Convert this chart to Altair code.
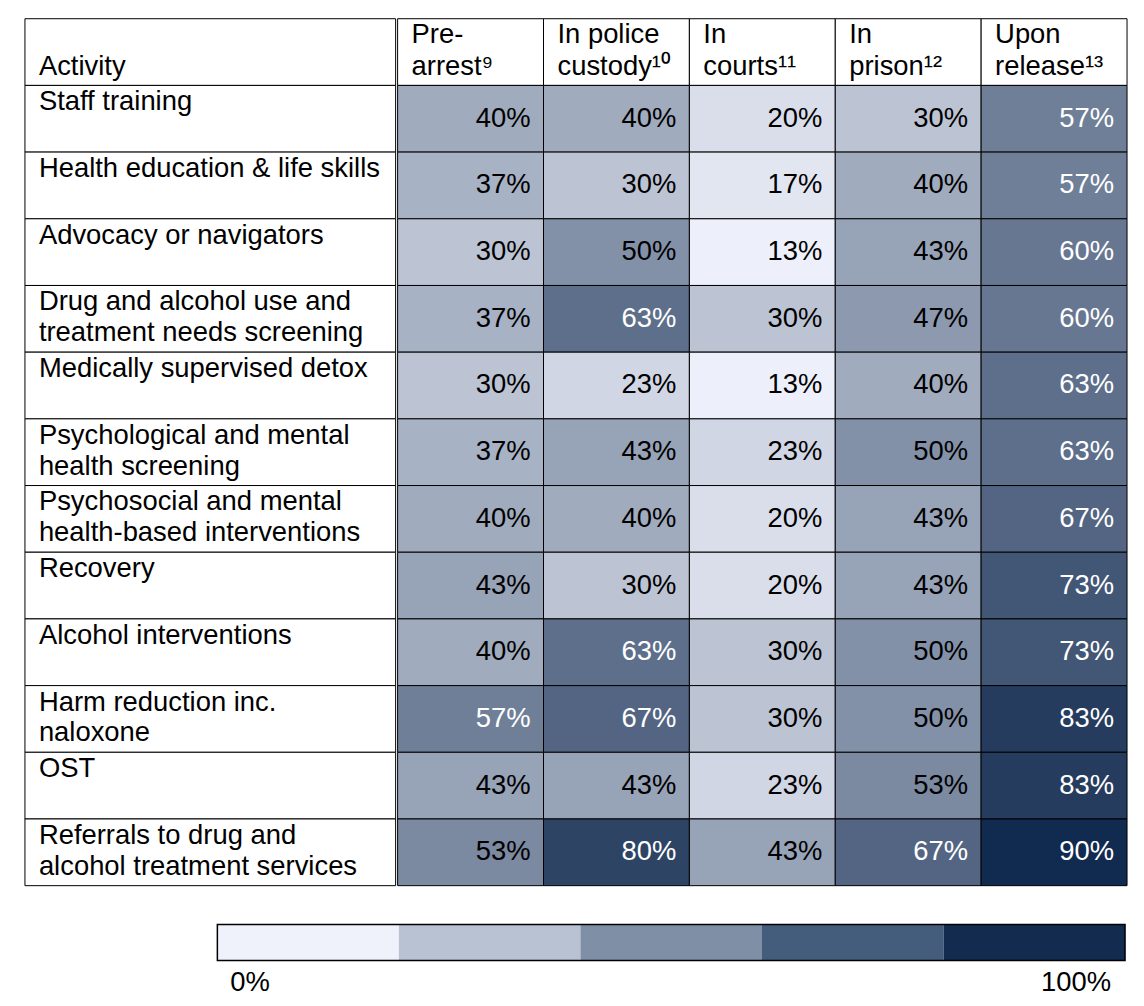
import altair as alt
import pandas as pd

# ---- data ----
stages = ["Pre-arrest", "In police custody", "In courts", "In prison", "Upon release"]
stage_headers = ["Pre-\narrest⁹", "In police\ncustody¹⁰", "In\ncourts¹¹", "In\nprison¹²", "Upon\nrelease¹³"]

activities = [
    "Staff training",
    "Health education & life skills",
    "Advocacy or navigators",
    "Drug and alcohol use and\ntreatment needs screening",
    "Medically supervised detox",
    "Psychological and mental\nhealth screening",
    "Psychosocial and mental\nhealth-based interventions",
    "Recovery",
    "Alcohol interventions",
    "Harm reduction inc.\nnaloxone",
    "OST",
    "Referrals to drug and\nalcohol treatment services",
]

pre_arrest = [40, 37, 30, 37, 30, 37, 40, 43, 40, 57, 43, 53]
police_custody = [40, 30, 50, 63, 23, 43, 40, 30, 63, 67, 43, 80]
courts = [20, 17, 13, 30, 13, 23, 20, 20, 30, 30, 23, 43]
prison = [30, 40, 43, 47, 40, 50, 43, 43, 50, 50, 53, 67]
upon_release = [57, 57, 60, 60, 63, 63, 67, 73, 73, 83, 83, 90]

legend_lo = [0, 20, 40, 60, 80]
legend_hi = [20, 40, 60, 80, 100]
legend_colors = ["#eff1fb", "#b8c2d2", "#7f8fa6", "#445d7c", "#122b4f"]
legend_labels = ["0%", "100%"]
legend_label_pos = [0, 100]

HEADER = "Activity"
row_domain = [HEADER] + activities
FONT = "Liberation Sans"
FS = 27.5
LH = 31

# ---- tables ----
series = [pre_arrest, police_custody, courts, prison, upon_release]
cells = pd.DataFrame(
    [{"row": a, "stage": s, "value": vals[i]}
     for s, vals in zip(stages, series) for i, a in enumerate(activities)]
)
cells["label"] = cells["value"].astype(str) + "%"

head_df = pd.DataFrame({"row": HEADER, "stage": stages, "text": stage_headers})
left_df = pd.DataFrame({"row": row_domain, "col": "Activity"})
act_df = pd.DataFrame({"row": activities, "col": "Activity"})
acthead_df = pd.DataFrame({"row": [HEADER], "col": ["Activity"], "text": [HEADER]})

yscale = alt.Scale(domain=row_domain, paddingInner=0, paddingOuter=0)
noaxis = None

# ---- left column ----
lx = alt.Scale(domain=["Activity"], paddingInner=0, paddingOuter=0)
left_rect = alt.Chart(left_df).mark_rect(fill="white", stroke="black", strokeWidth=1).encode(
    x=alt.X("col:N", scale=lx, axis=noaxis),
    y=alt.Y("row:N", scale=yscale, axis=noaxis),
)
left_text = alt.Chart(act_df).mark_text(
    align="left", baseline="top", dx=14, dy=3, font=FONT, fontSize=FS,
    lineBreak="\n", lineHeight=LH, color="black",
).encode(
    x=alt.X("col:N", scale=lx, axis=noaxis, bandPosition=0),
    y=alt.Y("row:N", scale=yscale, axis=noaxis, bandPosition=0),
    text="row:N",
)
left_head = alt.Chart(acthead_df).mark_text(
    align="left", baseline="bottom", dx=14, dy=-4, font=FONT, fontSize=FS,
    color="black",
).encode(
    x=alt.X("col:N", scale=lx, axis=noaxis, bandPosition=0),
    y=alt.Y("row:N", scale=yscale, axis=noaxis, bandPosition=1),
    text="text:N",
)
left = alt.layer(left_rect, left_text, left_head).properties(width=372, height=870)

# ---- heatmap ----
sx = alt.Scale(domain=stages, paddingInner=0, paddingOuter=0)
head_rect = alt.Chart(head_df).mark_rect(fill="white", stroke="black", strokeWidth=1).encode(
    x=alt.X("stage:N", scale=sx, axis=noaxis),
    y=alt.Y("row:N", scale=yscale, axis=noaxis),
)
head_text = alt.Chart(head_df).mark_text(
    align="left", baseline="top", dx=14, dy=2, font=FONT, fontSize=FS,
    lineBreak="\n", lineHeight=LH + 1, color="black",
).encode(
    x=alt.X("stage:N", scale=sx, axis=noaxis, bandPosition=0),
    y=alt.Y("row:N", scale=yscale, axis=noaxis, bandPosition=0),
    text="text:N",
)
cell_rect = alt.Chart(cells).mark_rect(stroke="black", strokeWidth=1).encode(
    x=alt.X("stage:N", scale=sx, axis=noaxis),
    y=alt.Y("row:N", scale=yscale, axis=noaxis),
    fill=alt.Fill("value:Q", scale=alt.Scale(domain=[13, 90], range=["#edf0fa", "#112a4f"],
                                             interpolate="rgb"), legend=None),
)
cell_text = alt.Chart(cells).mark_text(
    align="right", baseline="middle", dx=-13, font=FONT, fontSize=FS,
).encode(
    x=alt.X("stage:N", scale=sx, axis=noaxis, bandPosition=1),
    y=alt.Y("row:N", scale=yscale, axis=noaxis),
    text="label:N",
    color=alt.condition("datum.value >= 55", alt.value("white"), alt.value("black")),
)
right = alt.layer(head_rect, cell_rect, cell_text, head_text).properties(width=732, height=870)

table = alt.hconcat(left, right, spacing=0).resolve_scale(x="independent")

# ---- legend ----
leg_df = pd.DataFrame({"lo": legend_lo, "hi": legend_hi, "color": legend_colors, "r": "bar"})
outline_df = pd.DataFrame({"lo": [legend_lo[0]], "hi": [legend_hi[-1]], "r": ["bar"]})
lab_df = pd.DataFrame({"pos": legend_label_pos, "text": legend_labels, "r": "labels"})
lxs = alt.Scale(domain=[-21.2, 100], nice=False, zero=False)
lys = alt.Scale(domain=["bar", "labels"], paddingInner=0, paddingOuter=0)

leg_rect = alt.Chart(leg_df).mark_rect().encode(
    x=alt.X("lo:Q", scale=lxs, axis=noaxis), x2="hi:Q",
    y=alt.Y("r:N", scale=lys, axis=noaxis),
    fill=alt.Fill("color:N", scale=None),
)
leg_outline = alt.Chart(outline_df).mark_rect(fill=None, fillOpacity=0, stroke="black", strokeWidth=1.5).encode(
    x=alt.X("lo:Q", scale=lxs, axis=noaxis), x2="hi:Q",
    y=alt.Y("r:N", scale=lys, axis=noaxis),
)
leg_lab0 = alt.Chart(lab_df[lab_df.pos == legend_label_pos[0]]).mark_text(
    align="left", baseline="middle", dx=13, dy=5, font=FONT, fontSize=FS, color="black"
).encode(
    x=alt.X("pos:Q", scale=lxs, axis=noaxis),
    y=alt.Y("r:N", scale=lys, axis=noaxis),
    text="text:N",
)
leg_lab1 = alt.Chart(lab_df[lab_df.pos == legend_label_pos[1]]).mark_text(
    align="right", baseline="middle", dx=-14, dy=5, font=FONT, fontSize=FS, color="black"
).encode(
    x=alt.X("pos:Q", scale=lxs, axis=noaxis),
    y=alt.Y("r:N", scale=lys, axis=noaxis),
    text="text:N",
)
legend = alt.layer(leg_rect, leg_outline, leg_lab0, leg_lab1).properties(width=1104, height=72)

chart = alt.vconcat(table, legend, spacing=37).resolve_scale(
    x="independent", y="independent", fill="independent"
).properties(
    padding={"left": 16, "top": 8, "right": 8, "bottom": 8},
    background="white",
).configure_view(stroke=None)

chart.save("out.html", embed_options={"renderer": "svg", "actions": False})
